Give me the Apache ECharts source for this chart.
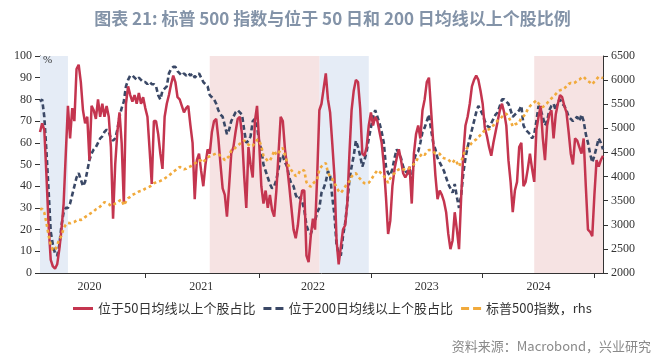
<!DOCTYPE html>
<html><head><meta charset="utf-8">
<script src="https://cdn.jsdelivr.net/npm/echarts@6/dist/echarts.min.js"></script>
<style>html,body{margin:0;padding:0;background:#fff}#c{width:665px;height:359px}</style>
</head><body><div id="c"></div>
<script>
// weekly observations starting 2020-01-24
const startDate = '2020-01-24';
const pct50 = [
65,69,66,45,22,6,3,2,4,11,
20,32,55,77,62,76,70,94,96,88,
75,69,72,52,77,75,71,80,72,78,
72,77,72,58,25,50,65,74,60,32,
78,86,82,79,82,78,83,78,81,76,
72,57,41,70,70,64,55,48,72,78,
82,87,91,88,81,80,77,74,76,77,
68,60,34,52,55,47,40,50,57,55,
65,70,71,62,50,39,36,26,40,55,
58,65,71,72,64,45,30,58,50,44,
70,77,60,40,32,38,30,36,29,26,
38,55,72,70,57,49,40,30,20,16,
22,32,38,38,8,5,17,25,20,45,
75,78,85,92,80,74,60,45,15,4,
12,20,22,32,55,75,84,89,88,76,
55,54,58,68,74,68,72,70,65,60,
50,35,18,24,40,48,53,57,52,46,
44,46,49,32,55,64,68,62,75,80,
88,90,75,60,45,34,38,36,33,28,
18,11,15,28,20,11,35,55,68,72,
78,86,89,91,89,84,78,67,63,58,
54,60,65,70,75,78,74,68,52,42,
28,38,42,58,60,40,42,48,55,48,
42,66,72,77,62,52,68,73,75,62,
73,78,82,81,77,74,65,55,50,62,
61,58,55,62,40,20,19,17,36,52,
49,52,54];
const pct200 = [
79,80,72,56,38,19,13,9,8,13,
22,28,30,30,32,36,40,44,46,43,
40,42,47,52,55,57,58,60,62,63,
65,66,65,62,61,62,66,72,76,79,
86,89,91,91,90,89,90,89,88,88,
87,88,87,87,86,82,80,84,85,86,
92,94,95,95,93,92,91,92,91,92,
91,92,90,91,92,90,88,87,86,82,
81,80,78,75,73,72,68,64,66,70,
72,74,75,74,73,66,60,61,63,70,
71,68,60,57,50,47,44,41,39,40,
43,48,54,54,51,49,44,41,40,36,
34,35,33,29,22,19,18,21,24,28,
30,37,39,42,47,45,35,27,13,9,
8,17,23,32,43,49,54,61,58,54,
49,52,56,62,67,72,75,72,69,65,
60,49,46,45,48,53,57,55,53,49,
47,46,45,43,52,55,56,60,65,67,
70,73,66,60,57,53,51,49,47,44,
41,39,37,41,35,30,36,46,53,58,
62,66,70,74,77,75,73,70,68,67,
69,71,73,74,77,80,80,79,78,75,
72,73,74,75,77,68,66,65,64,62,
64,70,77,75,72,68,70,75,77,78,
75,79,80,78,77,75,72,71,70,71,
72,70,73,70,64,60,55,51,54,58,
62,60,57];
const spx = [
3320,3330,3250,3040,2780,2580,2480,2470,2580,2700,
2770,2930,3000,3040,3030,3050,3060,3090,3110,3100,
3120,3160,3190,3220,3250,3280,3320,3340,3380,3420,
3470,3450,3430,3390,3410,3440,3460,3500,3520,3400,
3480,3550,3580,3620,3640,3660,3690,3700,3720,3750,
3770,3790,3820,3860,3880,3900,3910,3930,3960,3990,
4020,4060,4100,4130,4160,4200,4170,4150,4160,4190,
4210,4240,4270,4300,4340,4330,4290,4360,4400,4420,
4440,4460,4480,4470,4430,4400,4340,4380,4420,4540,
4560,4600,4640,4680,4710,4750,4700,4660,4620,4640,
4700,4760,4760,4620,4430,4380,4320,4330,4420,4540,
4450,4480,4570,4590,4450,4290,4200,4130,4070,4010,
4030,4120,4140,4120,3880,3820,3790,3850,3900,3940,
4150,4210,4250,4280,4080,4000,3950,3870,3780,3700,
3660,3720,3790,3860,3900,4000,4050,4070,4000,3950,
3900,3860,3850,3870,3930,4000,4070,4130,4100,4060,
4010,3950,3870,3960,4030,4070,4120,4150,4170,4150,
4140,4140,4180,4210,4260,4300,4410,4430,4480,4450,
4510,4550,4550,4520,4480,4480,4470,4410,4380,4370,
4350,4310,4280,4350,4290,4210,4300,4450,4550,4600,
4640,4700,4740,4770,4820,4860,4900,4970,4970,4980,
5030,5060,5120,5160,5190,5240,5290,5300,5240,5150,
5040,5080,5100,5120,5220,5250,5300,5400,5460,5500,
5540,5580,5520,5470,5440,5480,5520,5580,5620,5660,
5710,5760,5790,5800,5830,5870,5920,5940,5930,5950,
5990,6010,6050,6070,6020,5980,5950,5910,5970,6020,
6070,6060,6040];
const shadeBlue = [['2020-01-24','2020-04-24'],['2022-07-22','2022-12-30']];
const shadePink = [['2021-07-30','2022-07-22'],['2024-06-21','2025-01-31']];
const seriesNames = ['位于50日均线以上个股占比','位于200日均线以上个股占比','标普500指数，rhs'];

const dates = [];
const t0 = Date.parse(startDate + 'T00:00:00Z');
for (let i = 0; i < pct50.length; i++) {
  dates.push(new Date(t0 + i * 7 * 86400000).toISOString().slice(0, 10));
}
const serif = 'Liberation Serif';
const cjk = 'Noto Sans CJK SC';
const axisColor = '#333';
const cRed = '#c4354f', cNavy = '#3a4866', cOrange = '#f1aa3c';
const areas = [];
shadeBlue.forEach(p => areas.push([{xAxis: p[0], itemStyle: {color: '#e5ecf6'}}, {xAxis: p[1]}]));
shadePink.forEach(p => areas.push([{xAxis: p[0], itemStyle: {color: '#f6e3e3'}}, {xAxis: p[1]}]));
const dashIcon = 'path://M0,0h8v3h-8zM12,0h8v3h-8z';

const chart = echarts.init(document.getElementById('c'));
chart.setOption({
  animation: false,
  title: {
    text: '图表 21: 标普 500 指数与位于 50 日和 200 日均线以上个股比例',
    left: 'center', top: 5,
    textStyle: {fontFamily: cjk, fontSize: 17, fontWeight: 'bold', color: '#8393a8'}
  },
  grid: {left: 40, right: 62, top: 56, bottom: 86},
  legend: {
    left: 68, top: 297, itemWidth: 20, itemHeight: 3, itemGap: 8,
    data: [
      {name: seriesNames[0], icon: 'rect', itemStyle: {color: cRed}},
      {name: seriesNames[1], icon: dashIcon, itemStyle: {color: cNavy}},
      {name: seriesNames[2], icon: dashIcon, itemStyle: {color: cOrange}}
    ],
    textStyle: {fontFamily: cjk, fontSize: 13, color: '#333'}
  },
  xAxis: {
    type: 'category', data: dates, boundaryGap: false,
    axisLine: {lineStyle: {color: axisColor}},
    axisTick: {
      interval: (i, v) => v.slice(5, 7) === '01' && +v.slice(8, 10) <= 7,
      length: 5, lineStyle: {color: axisColor}
    },
    axisLabel: {
      interval: (i, v) => v.slice(5, 7) === '07' && +v.slice(8, 10) <= 7,
      formatter: v => v.slice(0, 4),
      fontFamily: serif, fontSize: 12, color: '#333', margin: 8
    },
    splitLine: {show: false}
  },
  yAxis: [{
    type: 'value', min: 0, max: 100, interval: 10, position: 'left',
    axisLine: {show: true, lineStyle: {color: axisColor}},
    axisTick: {show: true, length: 5, lineStyle: {color: axisColor}},
    axisLabel: {fontFamily: serif, fontSize: 12, color: '#333', margin: 8},
    splitLine: {show: false}
  }, {
    type: 'value', min: 2000, max: 6500, interval: 500, position: 'right',
    axisLine: {show: true, lineStyle: {color: axisColor}},
    axisTick: {show: true, length: 5, lineStyle: {color: axisColor}},
    axisLabel: {fontFamily: serif, fontSize: 12, color: '#333', margin: 8, formatter: v => String(v)},
    splitLine: {show: false}
  }],
  series: [{
    name: 'shade', type: 'line', data: [], z: 1, silent: true,
    markArea: {silent: true, data: areas}
  }, {
    name: seriesNames[0], type: 'line', data: pct50, yAxisIndex: 0,
    symbol: 'none', z: 3,
    lineStyle: {color: cRed, width: 2.5}, itemStyle: {color: cRed}
  }, {
    name: seriesNames[1], type: 'line', data: pct200, yAxisIndex: 0,
    symbol: 'none', z: 2,
    lineStyle: {color: cNavy, width: 2.6, type: [5, 3]}, itemStyle: {color: cNavy}
  }, {
    name: seriesNames[2], type: 'line', data: spx, yAxisIndex: 1,
    symbol: 'none', z: 4,
    lineStyle: {color: cOrange, width: 2.6, type: [3, 3]}, itemStyle: {color: cOrange}
  }],
  graphic: [{
    type: 'text', left: 43, top: 55, z: 100,
    style: {text: '%', font: '11px "Liberation Serif"', fill: '#333'}
  }, {
    type: 'text', right: 14, top: 340, z: 100,
    style: {text: '资料来源：Macrobond，兴业研究', font: '13px "Noto Sans CJK SC"', fill: '#8a8a8a'}
  }]
});
</script></body></html>
